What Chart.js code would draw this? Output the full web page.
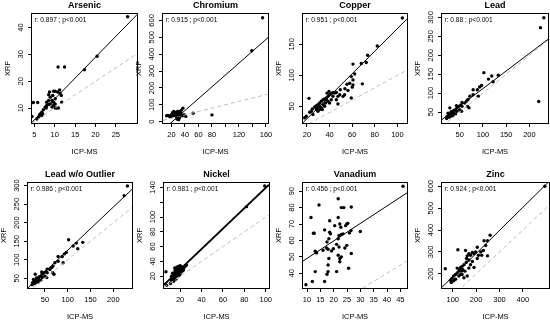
<!DOCTYPE html>
<html>
<head>
<meta charset="utf-8">
<script src="https://cdn.jsdelivr.net/npm/chart.js@4.4.1/dist/chart.umd.min.js"></script>
<style>
  html, body { margin: 0; padding: 0; background: #fff; overflow: hidden; }
  body { position: relative; width: 550px; height: 326px; }
  canvas { position: absolute; }
</style>
</head>
<body>
<script>
// panel titles, correlation text, fitted lines (intercept, slope)
const titles = ['Arsenic', 'Chromium', 'Copper', 'Lead', 'Lead w/o Outlier', 'Nickel', 'Vanadium', 'Zinc'];
const rValues = ['0.897', '0.915', '0.951', '0.88', '0.986', '0.981', '0.456', '0.924'];
const fitIntercepts = [-2.05, -74.3, -6.6, 18.9, 9.3, 1.5, 38.4, 81.6];
const fitSlopes = [1.55, 3.51, 1.82, 0.93, 1.164, 1.38, 1.065, 1.055];

// ICP-MS (x) vs XRF (y)
const arsenicX = [27.9, 20.4, 17.3, 10.8, 12.4, 4.75, 5.8, 4.4, 8.7, 9.7, 10.1, 10.7, 11.2, 11.3, 11.6, 8.9, 9.3, 9.7, 10.1, 8.9, 8.5, 8.0, 9.3, 10.5, 10.9, 10.1, 11.7, 7.6, 7.2, 6.8, 6.4, 6.2, 6.8, 6.0, 7.0, 5.6, 7.9, 8.5, 9.5, 8.5, 10.1, 9.7, 8.0];
const arsenicY = [44, 29.3, 24.3, 25.3, 25.3, 12.1, 12.1, 6.9, 16, 16.3, 16.3, 16, 16.8, 15.6, 14.7, 14.1, 12.9, 12.2, 11.6, 11.6, 11.4, 11.0, 10.4, 10.1, 10.1, 10.1, 12.2, 10.4, 9.4, 8.5, 7.9, 7.3, 7.3, 6.6, 7.9, 6.0, 10.1, 12.9, 14.7, 15, 13.5, 11.0, 12.2];

const chromiumX = [155, 139, 80, 52, 37, 12.9, 14.8, 17.2, 19.6, 22, 23.5, 24.4, 26.8, 28.2, 29.2, 30, 25.4, 27.3, 29.2, 31.6, 28.2, 30.6, 33, 34, 36.4, 38.8, 41.2, 20.6, 23.5, 25.9, 32, 34.5, 18.6, 29.2, 32.5];
const chromiumY = [616, 420, 40, 50, 80, 35, 37, 31, 41, 55, 61, 51, 55, 45, 61, 51, 41, 31, 27, 22, 16, 12, 41, 51, 35, 41, 31, 31, 37, 47, 59, 67, 27, 39, 31];

const copperX = [104.4, 82.2, 73.7, 72.5, 68.1, 60.7, 62.2, 60.7, 59.2, 57.8, 55.4, 60.7, 60.1, 53.6, 56.3, 59.2, 69, 53.3, 51.9, 49, 46, 44.5, 43, 41.5, 40, 38.6, 37.1, 35.6, 34.2, 32.7, 31.2, 29.7, 28.3, 26.8, 24.7, 23.8, 22.4, 21.8, 19.4, 18, 37.1, 38.6, 41.5, 43, 40, 35.6, 32.7, 31.2, 29.7, 28.3, 34.2, 31.2, 28.8, 46, 47.4, 37.7, 39.5, 36.5, 33.6, 25.3, 47.4, 49.5];
const copperY = [192.6, 147.3, 132.4, 120.7, 119.1, 118.1, 102, 92.6, 97.9, 87.2, 85.6, 84.6, 80.9, 78.2, 75.5, 63.3, 86.2, 68.6, 66, 68.6, 72.3, 71.3, 72.3, 70.2, 68.6, 66, 63.3, 61.7, 60.6, 58, 55.3, 52.7, 51.1, 48.9, 45.7, 42, 40.4, 62.8, 34, 31.4, 60.6, 58, 60.6, 66, 55.3, 50, 47.3, 44.7, 42, 44.7, 52.7, 50, 47.3, 60.6, 66, 71.3, 74, 55.3, 44.7, 36.7, 53.7, 76.6];

const leadX = [231, 223.8, 220, 102, 119, 133, 122, 112, 97, 93, 79, 88, 79, 72, 90, 68, 65, 67, 70, 55, 52, 48, 44, 41, 37, 34, 30, 27, 23, 22, 28.8, 34, 41, 37, 30, 27, 44, 50, 35.9, 25, 31.6, 43, 55, 61, 54];
const leadY = [299, 273, 78, 154, 145, 147, 130, 137, 120, 116, 109, 109, 96, 92, 92, 83, 79, 65, 61, 75, 68, 65, 61, 56, 54, 49, 45, 42, 38, 33, 61, 43, 45, 47, 38, 36, 52, 56, 40, 47, 51, 67, 65, 74, 52];
const leadOutlier = 2; // index of the sample dropped in "Lead w/o Outlier"

const nickelX = [99, 82, 6.8, 7.4, 11, 12, 12.5, 13, 13.5, 14, 14, 14.5, 15, 15, 15.5, 15.5, 16, 16, 16, 16.5, 16.5, 17, 17, 17, 17.5, 17.5, 18, 18, 18, 18.5, 18.5, 19, 19, 19.5, 19.5, 20, 20, 20.5, 21, 21, 21.5, 22, 22, 23, 24, 25, 26, 14, 13, 12, 15, 20, 23, 16];
const nickelY = [142, 114, 26, 7.7, 10, 14, 17, 15, 19, 21, 17, 23, 20, 25, 22, 28, 19, 24, 27, 21, 30, 23, 26, 32, 20, 28, 24, 30, 22, 26, 33, 28, 21, 25, 31, 27, 23, 30, 26, 33, 29, 31, 27, 30, 32, 34, 35, 13, 24, 20, 31, 34, 28, 16];

const vanadiumX = [46, 9.6, 11.5, 14.5, 12.4, 12.7, 13.1, 13.6, 13.1, 12, 16.6, 16, 16.6, 17.5, 17.3, 18.2, 17.9, 18.2, 18.5, 18.5, 18.8, 19.2, 17.9, 17.5, 17.9, 19.9, 20.4, 21.1, 21.1, 21.7, 21.7, 22.3, 22.7, 22, 21.7, 22, 21.7, 22.3, 22.3, 22.9, 22.9, 23.5, 22.9, 23.8, 24.5, 24.9, 24.2, 24.9, 25.3, 25.6, 26.6, 25.9, 26.5, 26.6, 30];
const vanadiumY = [93, 33, 74, 81.6, 64.4, 64.4, 53.4, 52.4, 41, 35, 35, 54, 66.4, 59, 55.4, 61, 54.6, 49, 72, 65, 64, 53.6, 45, 39.4, 41, 55, 69, 57.6, 41, 85.4, 74, 70, 68, 63, 61, 56, 51, 49, 47, 50, 63.6, 64, 80, 80, 69, 70, 55.4, 57, 70.4, 43, 80.4, 64.6, 66, 52, 65.4];

const zincX = [494, 68, 122, 260, 249, 234, 241, 231, 249, 220, 205, 198, 191, 184, 176, 169, 162, 159, 169, 155, 184, 176, 191, 169, 158, 148, 140, 143, 137, 129, 126, 119, 112, 104, 97, 90, 94, 104, 112, 134, 152, 162, 148, 126, 119, 140, 134, 205, 210, 224];
const zincY = [600, 223, 310, 376, 351, 351, 329, 307, 282, 300, 321, 300, 292, 297, 285, 292, 282, 270, 263, 307, 256, 241, 229, 226, 253, 241, 234, 219, 212, 219, 212, 204, 197, 190, 180, 171, 160, 168, 175, 197, 212, 190, 182, 190, 226, 197, 229, 270, 285, 285];

// tick values per panel
const xTicks = [[5, 10, 15, 20, 25], [20, 40, 60, 80, 100, 120, 140, 160], [20, 40, 60, 80, 100], [50, 100, 150, 200],
  [50, 100, 150, 200], [20, 40, 60, 80, 100], [10, 15, 20, 25, 30, 35, 40, 45], [100, 200, 300, 400]];
const yTicks = [[10, 20, 30, 40], [0, 100, 200, 300, 400, 500, 600], [50, 100, 150], [50, 100, 150, 200, 250, 300],
  [50, 100, 150, 200, 250, 300], [20, 40, 60, 80, 100, 120, 140], [40, 50, 60, 70, 80, 90], [200, 300, 400, 500, 600]];
const xHidden = [[], [100, 140], [], [], [], [], [], []];   // ticks whose label R dropped
const yHidden = [[], [], [], [], [], [120], [], []];

const seriesX = [arsenicX, chromiumX, copperX, leadX, leadX.filter((v, k) => k !== leadOutlier), nickelX, vanadiumX, zincX];
const seriesY = [arsenicY, chromiumY, copperY, leadY, leadY.filter((v, k) => k !== leadOutlier), nickelY, vanadiumY, zincY];

// plot box in page pixels [left, top, right, bottom] and axis limits
const boxes = [[32, 14, 137, 123], [163, 14, 268, 123], [303, 14, 407, 123], [442, 14, 548, 123],
  [28, 183, 132, 288], [164, 183, 269, 288], [303, 183, 407, 288], [442, 183, 549, 288]];
const xLimits = [[4.4, 30.2], [7.5, 163], [16.5, 108.5], [12, 240], [13, 241], [5, 103], [8.5, 47.5], [54, 512]];
const yLimits = [[4.5, 45], [-8, 638], [23, 199], [21, 309], [24, 307], [4, 146], [31, 95], [135, 615]];

Chart.defaults.font.family = '"Liberation Sans", Arial, sans-serif';
Chart.defaults.color = '#000';

const AXIS_W = 32, AXIS_H = 33, TOP_H = 14, RIGHT_PAD = 8;

// R look: full box, rotated y labels, r/p text
const rStyle = {
    id: 'rStyle',
    afterDraw(chart, args, opts) {
        const { ctx, chartArea: a, scales } = chart;
        ctx.save();
        ctx.strokeStyle = '#000';
        ctx.lineWidth = 1;
        ctx.strokeRect(Math.round(a.left) - 0.5, Math.round(a.top) - 0.5,
            Math.round(a.right - a.left) + 1, Math.round(a.bottom - a.top) + 1);

        ctx.fillStyle = '#000';
        ctx.font = '7.5px "Liberation Sans", Arial, sans-serif';
        ctx.textAlign = 'center';
        ctx.textBaseline = 'middle';
        scales.y.ticks.forEach(t => {
            if (!t.label) return;
            ctx.save();
            ctx.translate(a.left - 11.5, scales.y.getPixelForValue(t.value));
            ctx.rotate(-Math.PI / 2);
            ctx.fillText(t.label, 0, 0);
            ctx.restore();
        });

        ctx.font = '6.6px "Liberation Sans", Arial, sans-serif';
        ctx.textAlign = 'left';
        ctx.fillText(opts.note, a.left + 2.5, a.top + 6);
        ctx.restore();
    }
};

function makePanel(i) {
    const [bl, bt, br, bb] = boxes[i];
    const [xmin, xmax] = xLimits[i];
    const [ymin, ymax] = yLimits[i];
    const a = fitIntercepts[i], b = fitSlopes[i];

    const cv = document.createElement('canvas');
    cv.width = br - bl + AXIS_W + RIGHT_PAD;
    cv.height = bb - bt + TOP_H + AXIS_H;
    cv.style.left = (bl - AXIS_W) + 'px';
    cv.style.top = (bt - TOP_H) + 'px';
    document.body.appendChild(cv);

    const gridOpts = { drawOnChartArea: false, drawTicks: true, tickLength: 4, color: '#000', lineWidth: 1 };

    new Chart(cv.getContext('2d'), {
        type: 'scatter',
        data: {
            datasets: [
                {   // fitted line
                    data: [{ x: xmin, y: a + b * xmin }, { x: xmax, y: a + b * xmax }],
                    showLine: true, borderColor: '#000', borderWidth: i === 5 ? 1.8 : 1,
                    pointRadius: 0
                },
                {   // 1:1 line
                    data: [{ x: xmin, y: xmin }, { x: xmax, y: xmax }],
                    showLine: true, borderColor: '#bdbdbd', borderWidth: 1, borderDash: [4, 3],
                    pointRadius: 0
                },
                {
                    data: seriesX[i].map((x, k) => ({ x: x, y: seriesY[i][k] })),
                    pointRadius: 1.7, pointBorderWidth: 0,
                    pointBackgroundColor: '#000', borderColor: '#000'
                }
            ]
        },
        options: {
            responsive: false,
            animation: false,
            events: [],
            layout: { padding: { left: 0, top: 0, right: RIGHT_PAD, bottom: 0 } },
            plugins: {
                legend: { display: false },
                tooltip: { enabled: false },
                title: {
                    display: true, text: titles[i], fullSize: false,
                    font: { size: 9, weight: 'bold' }, color: '#000',
                    padding: { top: 0, bottom: 3.2 }
                },
                rStyle: { note: 'r: ' + rValues[i] + ' ; p<0.001' }
            },
            scales: {
                x: {
                    type: 'linear', min: xmin, max: xmax,
                    afterBuildTicks: s => { s.ticks = xTicks[i].map(v => ({ value: v })); },
                    afterFit: s => { s.height = AXIS_H; s.paddingLeft = 0; s.paddingRight = 0; },
                    grid: gridOpts,
                    border: { display: false },
                    ticks: {
                        autoSkip: false, maxRotation: 0, minRotation: 0, padding: 3,
                        font: { size: 7.5 }, color: '#000',
                        callback: v => xHidden[i].includes(v) ? '' : String(v)
                    },
                    title: { display: true, text: 'ICP-MS', font: { size: 7.5 }, color: '#000', padding: 0 }
                },
                y: {
                    type: 'linear', position: 'left', min: ymin, max: ymax,
                    afterBuildTicks: s => { s.ticks = yTicks[i].map(v => ({ value: v })); },
                    afterFit: s => { s.width = AXIS_W; s.paddingTop = 0; s.paddingBottom = 0; },
                    grid: gridOpts,
                    border: { display: false },
                    ticks: {
                        display: false,
                        callback: v => yHidden[i].includes(v) ? '' : String(v)
                    },
                    title: { display: true, text: 'XRF', font: { size: 7.5 }, color: '#000', padding: { top: 3.5, bottom: 0 } }
                }
            }
        },
        plugins: [rStyle]
    });
}

for (let i = 0; i < titles.length; i++) makePanel(i);
</script>
</body>
</html>
